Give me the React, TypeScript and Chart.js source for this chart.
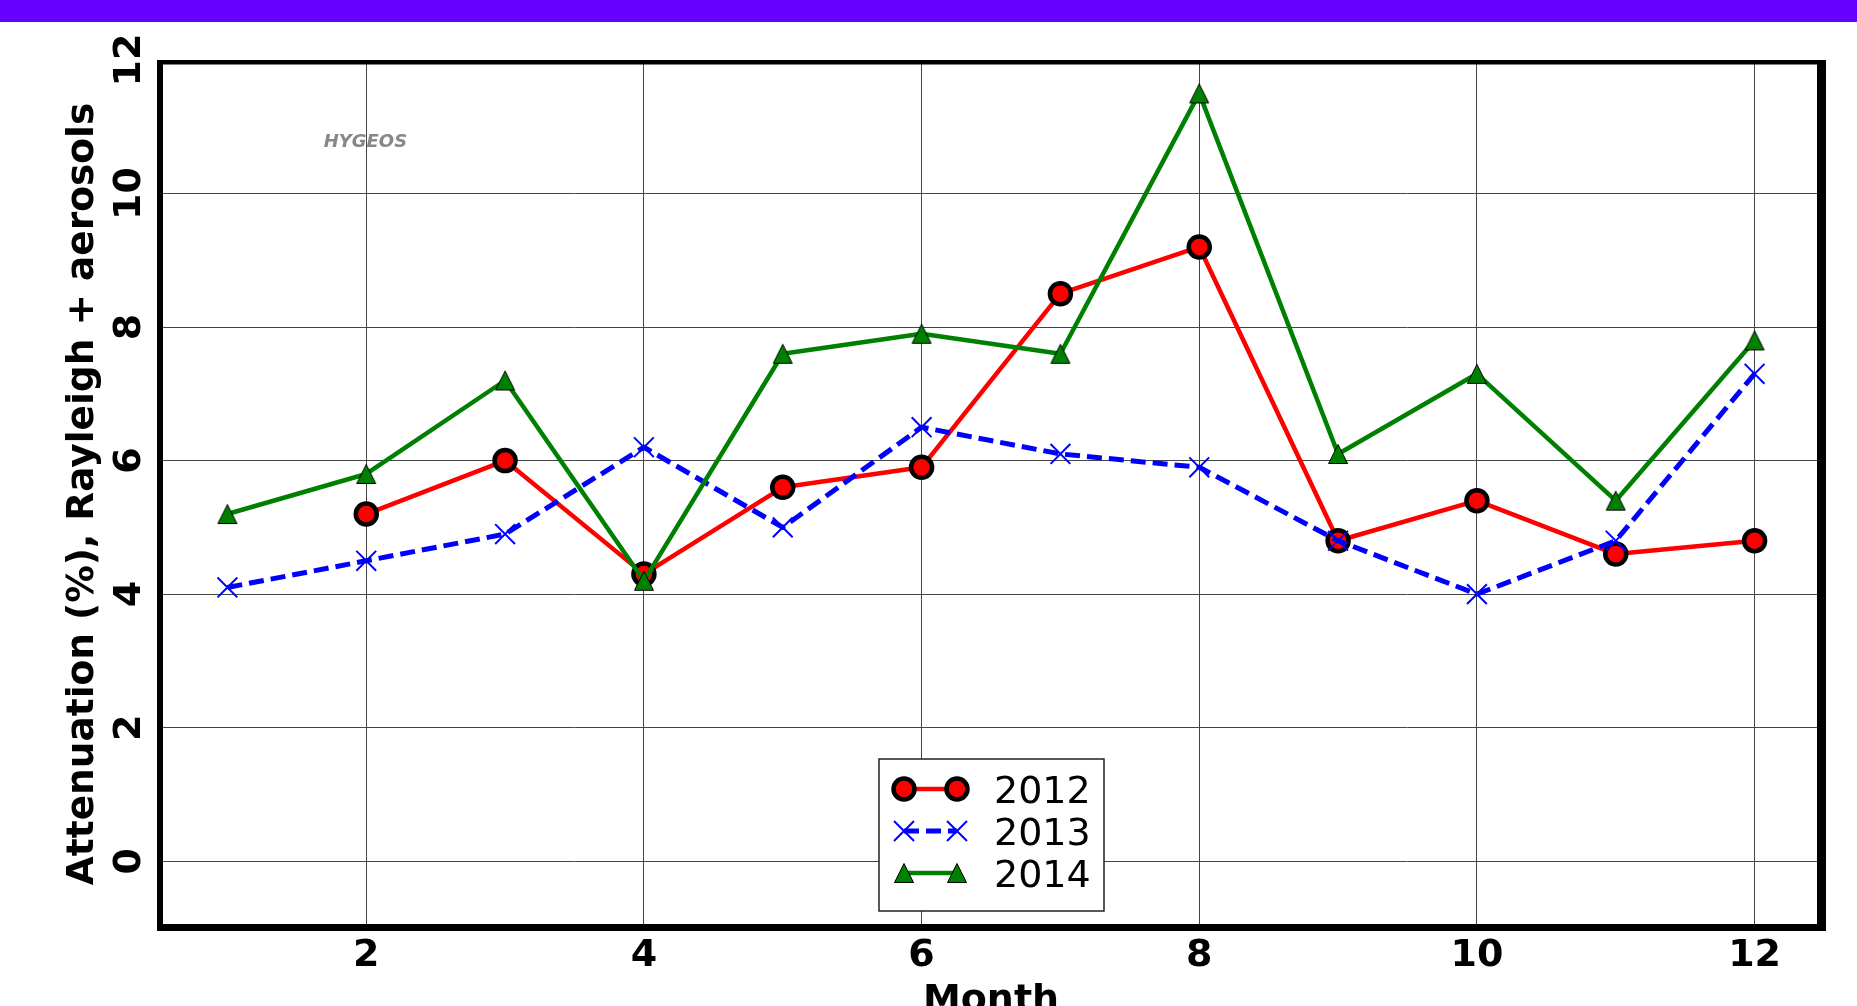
import React, { useEffect, useRef } from "react";
import { Chart, registerables } from "chart.js";

Chart.register(...registerables);

// ---- data ----
const months = [1, 2, 3, 4, 5, 6, 7, 8, 9, 10, 11, 12];
const values2012 = [null, 5.2, 6.0, 4.3, 5.6, 5.9, 8.5, 9.2, 4.8, 5.4, 4.6, 4.8];
const values2013 = [4.1, 4.5, 4.9, 6.2, 5.0, 6.5, 6.1, 5.9, 4.8, 4.0, 4.8, 7.3];
const values2014 = [5.2, 5.8, 7.2, 4.2, 7.6, 7.9, 7.6, 11.5, 6.1, 7.3, 5.4, 7.8];
const seriesLabels = ["2012", "2013", "2014"];
const xTickValues = [2, 4, 6, 8, 10, 12];
const yTickValues = [0, 2, 4, 6, 8, 10, 12];
const xTitle = "Month";
const yTitle = "Attenuation (%), Rayleigh + aerosols";
const watermark = "HYGEOS";

const FONT = "'DejaVu Sans', 'Liberation Sans', sans-serif";

function makeTriangle(): HTMLCanvasElement {
  const c = document.createElement("canvas");
  c.width = 24;
  c.height = 24;
  const g = c.getContext("2d")!;
  const h = 9.5;
  g.beginPath();
  g.moveTo(12, 12 - h);
  g.lineTo(12 - h, 12 + h);
  g.lineTo(12 + h, 12 + h);
  g.closePath();
  g.fillStyle = "#008000";
  g.fill();
  g.lineWidth = 1;
  g.strokeStyle = "#000";
  g.stroke();
  return c;
}

function toPoints(vals: (number | null)[]) {
  return months.map((m, i) => ({ x: m, y: vals[i] }));
}

export default function App() {
  const ref = useRef<HTMLCanvasElement>(null);

  useEffect(() => {
    if (!ref.current) return;
    const tri = makeTriangle();

    const drawMarker = (ctx: CanvasRenderingContext2D, kind: number, x: number, y: number) => {
      if (kind === 0) {
        ctx.beginPath();
        ctx.arc(x, y, 10.5, 0, Math.PI * 2);
        ctx.fillStyle = "#ff0000";
        ctx.fill();
        ctx.lineWidth = 4.5;
        ctx.strokeStyle = "#000";
        ctx.stroke();
      } else if (kind === 1) {
        ctx.beginPath();
        ctx.moveTo(x - 10, y - 10);
        ctx.lineTo(x + 10, y + 10);
        ctx.moveTo(x - 10, y + 10);
        ctx.lineTo(x + 10, y - 10);
        ctx.lineWidth = 2;
        ctx.strokeStyle = "#0000ff";
        ctx.stroke();
      } else {
        ctx.drawImage(tri, x - tri.width / 2, y - tri.height / 2);
      }
    };

    const decor = {
      id: "decor",
      beforeDraw(chart: any) {
        const ctx = chart.ctx;
        ctx.save();
        ctx.fillStyle = "#ffffff";
        ctx.fillRect(0, 0, chart.width, chart.height);
        ctx.restore();
      },
      afterDatasetsDraw(chart: any) {
        const ctx: CanvasRenderingContext2D = chart.ctx;
        const a = chart.chartArea;
        const xs = chart.scales.x;
        const ys = chart.scales.y;
        ctx.save();
        // frame
        ctx.fillStyle = "#000";
        ctx.fillRect(a.left - 1, a.top, 6, a.bottom - a.top + 3);
        ctx.fillRect(a.left - 1, a.top, a.right - a.left + 2, 4.5);
        ctx.fillRect(a.right - 7, a.top, 9, a.bottom - a.top + 3);
        ctx.fillRect(a.left - 1, a.bottom - 4, a.right - a.left + 3, 7);

        // watermark
        ctx.font = "italic bold 18px " + FONT;
        ctx.fillStyle = "#888888";
        ctx.textAlign = "center";
        ctx.textBaseline = "alphabetic";
        ctx.fillText(watermark, a.left + 0.1245 * (a.right - a.left), a.bottom - 0.9 * (a.bottom - a.top));

        // x tick labels
        ctx.fillStyle = "#000";
        ctx.font = "bold 38px " + FONT;
        ctx.textAlign = "center";
        ctx.textBaseline = "alphabetic";
        for (const t of xs.ticks) {
          ctx.fillText(String(t.value), xs.getPixelForValue(t.value), a.bottom + 38);
        }
        // y tick labels (rotated)
        for (const t of ys.ticks) {
          const py = ys.getPixelForValue(t.value);
          ctx.save();
          ctx.translate(140, py);
          ctx.rotate(-Math.PI / 2);
          ctx.fillText(String(t.value), 0, 0);
          ctx.restore();
        }
        // y title
        ctx.save();
        ctx.font = "bold 37.5px " + FONT;
        ctx.translate(93, (a.top + a.bottom) / 2);
        ctx.rotate(-Math.PI / 2);
        ctx.fillText(yTitle, 0, 0);
        ctx.restore();
        // x title
        ctx.fillText(xTitle, (a.left + a.right) / 2, 1011);

        // legend
        const bw = 225;
        const bh = 152;
        const bx = Math.round((a.left + a.right) / 2 - bw / 2);
        const by = a.bottom - 17 - bh;
        ctx.fillStyle = "#fff";
        ctx.fillRect(bx, by, bw, bh);
        ctx.lineWidth = 1.5;
        ctx.strokeStyle = "#222";
        ctx.strokeRect(bx, by, bw, bh);
        const ds = chart.data.datasets;
        for (let i = 0; i < 3; i++) {
          const cy = by + 30 + i * 42;
          const x1 = bx + 25;
          const x2 = bx + 78;
          ctx.save();
          ctx.beginPath();
          ctx.moveTo(x1, cy);
          ctx.lineTo(x2, cy);
          ctx.lineWidth = ds[i].borderWidth;
          ctx.strokeStyle = ds[i].borderColor;
          ctx.setLineDash(ds[i].borderDash || []);
          ctx.stroke();
          ctx.setLineDash([]);
          drawMarker(ctx, i, x1, cy);
          drawMarker(ctx, i, x2, cy);
          ctx.restore();
          ctx.fillStyle = "#000";
          ctx.font = "38px " + FONT;
          ctx.textAlign = "left";
          ctx.fillText(seriesLabels[i], bx + 115, cy + 14);
        }
        ctx.restore();
      },
    };

    const chart = new Chart(ref.current, {
      type: "line",
      data: {
        datasets: [
          {
            label: seriesLabels[0],
            data: toPoints(values2012),
            borderColor: "#ff0000",
            borderWidth: 4.5,
            borderJoinStyle: "round",
            pointStyle: "circle",
            pointRadius: 10.5,
            pointBorderWidth: 4.5,
            pointBackgroundColor: "#ff0000",
            pointBorderColor: "#000000",
            order: 3,
          },
          {
            label: seriesLabels[1],
            data: toPoints(values2013),
            borderColor: "#0000ff",
            borderWidth: 5,
            borderDash: [15, 7],
            pointStyle: "crossRot",
            pointRadius: 14,
            pointBorderWidth: 2,
            pointBackgroundColor: "#0000ff",
            pointBorderColor: "#0000ff",
            order: 2,
          },
          {
            label: seriesLabels[2],
            data: toPoints(values2014),
            borderColor: "#008000",
            borderWidth: 4.5,
            borderJoinStyle: "round",
            pointStyle: tri,
            pointRadius: 11,
            pointBackgroundColor: "#008000",
            pointBorderColor: "#000000",
            order: 1,
          },
        ] as any,
      },
      options: {
        responsive: false,
        animation: false,
        devicePixelRatio: 1,
        events: [],
        layout: { padding: { top: 60, right: 33, left: 0, bottom: 0 } },
        plugins: {
          legend: { display: false },
          tooltip: { enabled: false },
          title: { display: false },
        },
        scales: {
          x: {
            type: "linear",
            min: 0.5,
            max: 12.5,
            afterBuildTicks: (s: any) => {
              s.ticks = xTickValues.map((v) => ({ value: v }));
            },
            afterFit: (s: any) => {
              s.height = 78;
            },
            ticks: { display: false },
            grid: { color: "#444444", lineWidth: 1, drawTicks: false },
            border: { display: false },
          },
          y: {
            type: "linear",
            min: -1,
            max: 12,
            afterBuildTicks: (s: any) => {
              s.ticks = yTickValues.map((v) => ({ value: v }));
            },
            afterFit: (s: any) => {
              s.width = 158;
            },
            ticks: { display: false },
            grid: { color: "#444444", lineWidth: 1, drawTicks: false },
            border: { display: false },
          },
        },
      } as any,
      plugins: [decor],
    });
    return () => chart.destroy();
  }, []);

  return (
    <div
      style={{
        position: "fixed",
        left: 0,
        top: 0,
        width: 1857,
        height: 1006,
        background: "#ffffff",
        overflow: "hidden",
      }}
    >
      <canvas ref={ref} width={1857} height={1006} style={{ display: "block", width: 1857, height: 1006 }} />
      <div
        style={{
          position: "absolute",
          left: 0,
          top: 0,
          width: 1857,
          height: 22,
          background: "#6600ff",
        }}
      />
    </div>
  );
}
